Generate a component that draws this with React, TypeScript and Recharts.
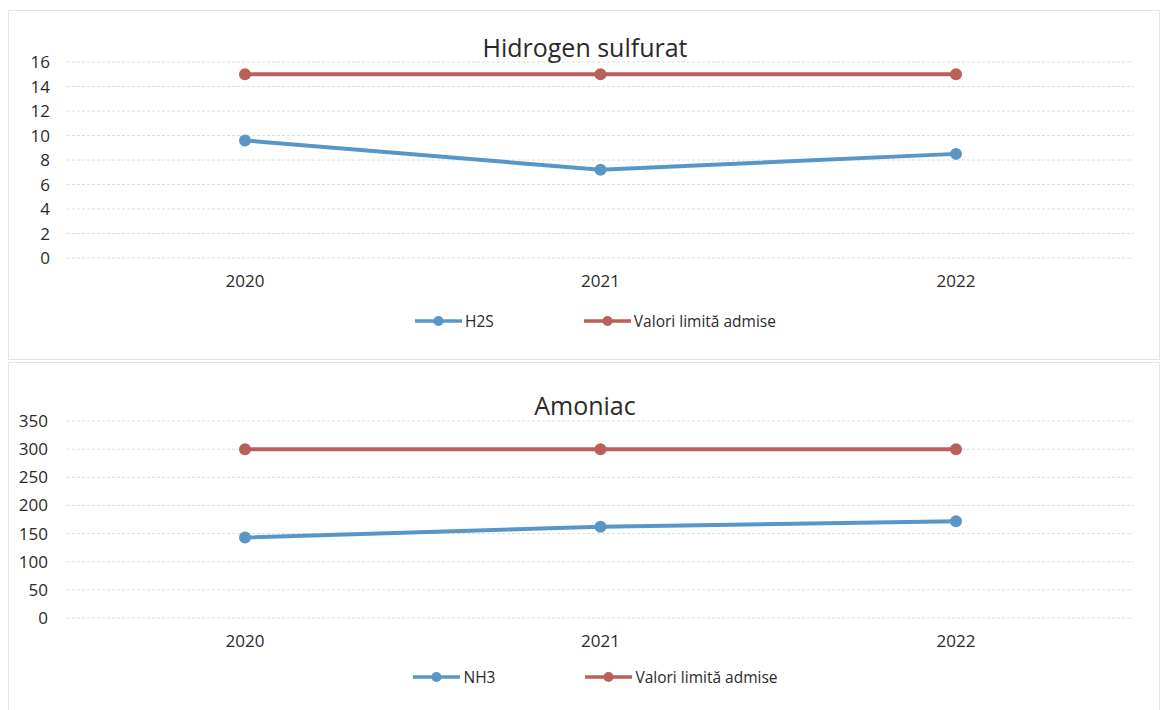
import React from 'react';
import { LineChart, Line, XAxis, YAxis, CartesianGrid, Legend } from 'recharts';

const years = ['2020', '2021', '2022'];
const h2sValues = [9.6, 7.2, 8.5];
const h2sLimit = [15, 15, 15];
const h2sTicks = [0, 2, 4, 6, 8, 10, 12, 14, 16];
const nh3Values = [143, 162, 172];
const nh3Limit = [300, 300, 300];
const nh3Ticks = [0, 50, 100, 150, 200, 250, 300, 350];

const BLUE = '#5896c8';
const RED = '#bb5f5a';
const FONT = '"Open Sans", "Noto Sans", sans-serif';
const TEXT = '#2a2a2a';

type Cfg = {
  title: string;
  seriesName: string;
  values: number[];
  limit: number[];
  ticks: number[];
  top: number;
  height: number;
  marginTop: number;
  marginBottom: number;
  xAxisHeight: number;
  yTickOffset: number;
  titleY: number;
};

const LegendIcon = ({ color }: { color: string }) => (
  <svg width={47} height={12} style={{ display: 'block' }}>
    <line x1={0} y1={6} x2={47} y2={6} stroke={color} strokeWidth={3.5} />
    <circle cx={23.5} cy={6} r={5} fill={color} />
  </svg>
);

const Panel = (c: Cfg) => {
  const data = years.map((y, i) => ({ year: y, v: c.values[i], lim: c.limit[i] }));
  const W = 1152;
  const legend = () => (
    <div
      style={{
        height: 20,
        display: 'flex',
        alignItems: 'center',
        justifyContent: 'center',
        paddingLeft: 50,
        fontFamily: FONT,
        fontSize: 15.5,
        color: TEXT,
      }}
    >
      <div style={{ display: 'flex', alignItems: 'center', marginRight: 90 }}>
        <LegendIcon color={BLUE} />
        <span style={{ marginLeft: 3 }}>{c.seriesName}</span>
      </div>
      <div style={{ display: 'flex', alignItems: 'center' }}>
        <LegendIcon color={RED} />
        <span style={{ marginLeft: 3 }}>Valori limită admise</span>
      </div>
    </div>
  );
  return (
    <div
      style={{
        position: 'absolute',
        left: 8,
        top: c.top,
        width: W,
        height: c.height,
        border: '1px solid #e4e4e4',
        boxSizing: 'border-box',
        background: '#fff',
      }}
    >
      <div
        style={{
          position: 'absolute',
          left: 0,
          width: W,
          top: c.titleY - 18,
          height: 36,
          lineHeight: '36px',
          textAlign: 'center',
          fontFamily: FONT,
          fontSize: 25,
          color: TEXT,
          zIndex: 2,
        }}
      >
        {c.title}
      </div>
      <div style={{ position: 'absolute', left: -1, top: -1 }}>
        <LineChart
          width={W}
          height={c.height}
          data={data}
          margin={{ top: c.marginTop, right: 27, bottom: c.marginBottom, left: 0 }}
        >
          <CartesianGrid vertical={false} stroke="#dcdcdc" strokeDasharray="3 2" />
          <XAxis
            dataKey="year"
            axisLine={false}
            tickLine={false}
            tickSize={6}
            tickMargin={11}
            height={c.xAxisHeight}
            padding={{ left: 178, right: 177 }}
            tick={{ fill: TEXT, fontSize: 17, fontFamily: FONT }}
          />
          <YAxis
            width={59}
            domain={[c.ticks[0], c.ticks[c.ticks.length - 1]]}
            ticks={c.ticks}
            interval={0}
            axisLine={false}
            tickLine={false}
            tickSize={6}
            tickMargin={c.yTickOffset - 6}
            tick={{ fill: TEXT, fontSize: 17, fontFamily: FONT }}
          />
          <Legend verticalAlign="bottom" content={legend} />
          <Line
            dataKey="v"
            name={c.seriesName}
            stroke={BLUE}
            strokeWidth={4}
            dot={{ r: 6, fill: BLUE, stroke: BLUE, strokeWidth: 0 }}
            isAnimationActive={false}
          />
          <Line
            dataKey="lim"
            name="Valori limită admise"
            stroke={RED}
            strokeWidth={4}
            dot={{ r: 6, fill: RED, stroke: RED, strokeWidth: 0 }}
            isAnimationActive={false}
          />
        </LineChart>
      </div>
    </div>
  );
};

export default function App() {
  return (
    <div style={{ position: 'absolute', left: 0, top: 0, width: 1162, height: 710, background: '#fff' }}>
      <Panel
        title="Hidrogen sulfurat"
        seriesName="H2S"
        values={h2sValues}
        limit={h2sLimit}
        ticks={h2sTicks}
        top={10}
        height={350}
        marginTop={52}
        marginBottom={29}
        xAxisHeight={53}
        yTickOffset={17}
        titleY={36}
      />
      <Panel
        title="Amoniac"
        seriesName="NH3"
        values={nh3Values}
        limit={nh3Limit}
        ticks={nh3Ticks}
        top={362}
        height={350}
        marginTop={59}
        marginBottom={25}
        xAxisHeight={49}
        yTickOffset={19}
        titleY={42}
      />
    </div>
  );
}
